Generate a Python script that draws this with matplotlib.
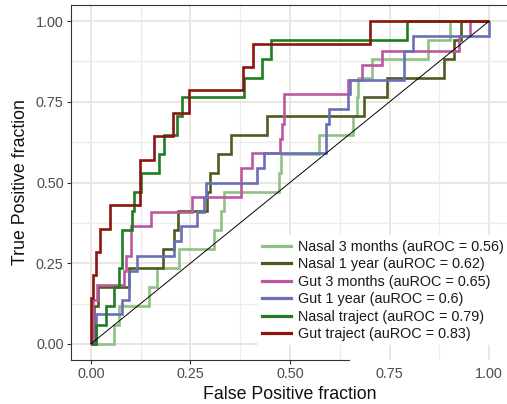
import matplotlib.pyplot as plt
from matplotlib.lines import Line2D

plt.rcParams['font.family'] = ['Liberation Sans', 'DejaVu Sans']

# ROC curves: each point is where a vertical rise sits (fpr) and its top (tpr)
nasal_3m_fpr = [0, 0.058, 0.071, 0.146, 0.167, 0.221, 0.309, 0.326, 0.334, 0.472, 0.477,
                0.572, 0.657, 0.668, 0.672, 0.706, 0.846, 0.901, 1.0]
nasal_3m_tpr = [0, 0.059, 0.118, 0.176, 0.235, 0.294, 0.353, 0.412, 0.471, 0.529, 0.588,
                0.647, 0.706, 0.765, 0.824, 0.882, 0.941, 1.0, 1.0]

nasal_1y_fpr = [0, 0.008, 0.017, 0.096, 0.181, 0.208, 0.218, 0.292, 0.299, 0.320, 0.353,
                0.441, 0.687, 0.744, 0.886, 0.912, 0.930, 1.0]
nasal_1y_tpr = [0, 0.118, 0.176, 0.235, 0.294, 0.353, 0.412, 0.471, 0.529, 0.588, 0.647,
                0.706, 0.765, 0.824, 0.882, 0.941, 1.0, 1.0]

gut_3m_fpr = [0, 0.005, 0.015, 0.083, 0.088, 0.100, 0.152, 0.253, 0.376, 0.405, 0.476,
              0.480, 0.485, 0.645, 0.681, 0.731, 0.925, 0.951, 1.0]
gut_3m_tpr = [0, 0.136, 0.182, 0.227, 0.273, 0.364, 0.409, 0.455, 0.545, 0.591, 0.636,
              0.682, 0.773, 0.818, 0.864, 0.909, 0.955, 1.0, 1.0]

gut_1y_fpr = [0, 0.013, 0.079, 0.096, 0.117, 0.209, 0.226, 0.266, 0.283, 0.288, 0.418,
              0.434, 0.591, 0.597, 0.645, 0.650, 0.787, 0.810, 1.0]
gut_1y_tpr = [0, 0.091, 0.136, 0.227, 0.273, 0.318, 0.364, 0.409, 0.455, 0.500, 0.545,
              0.591, 0.682, 0.727, 0.773, 0.818, 0.909, 0.955, 1.0]

nasal_traj_fpr = [0, 0.013, 0.039, 0.057, 0.071, 0.077, 0.104, 0.108, 0.125, 0.171, 0.184,
                  0.215, 0.228, 0.384, 0.430, 0.453, 0.794, 1.0]
nasal_traj_tpr = [0, 0.059, 0.118, 0.176, 0.235, 0.353, 0.412, 0.471, 0.529, 0.588, 0.647,
                  0.706, 0.765, 0.824, 0.882, 0.941, 1.0, 1.0]

gut_traj_fpr = [0, 0.000, 0.005, 0.012, 0.022, 0.048, 0.123, 0.159, 0.207, 0.246, 0.383,
                0.406, 0.702, 1.0]
gut_traj_tpr = [0, 0.143, 0.214, 0.286, 0.357, 0.429, 0.571, 0.643, 0.714, 0.786, 0.857,
                0.929, 1.0, 1.0]

series_names = ["Nasal 3 months", "Nasal 1 year", "Gut 3 months",
                "Gut 1 year", "Nasal traject", "Gut traject"]
auroc_labels = ["0.56", "0.62", "0.65", "0.6", "0.79", "0.83"]

tick_values = [0, 0.25, 0.5, 0.75, 1.0]
tick_labels = ["0.00", "0.25", "0.50", "0.75", "1.00"]

curves = [
    (nasal_3m_fpr, nasal_3m_tpr),
    (nasal_1y_fpr, nasal_1y_tpr),
    (gut_3m_fpr, gut_3m_tpr),
    (gut_1y_fpr, gut_1y_tpr),
    (nasal_traj_fpr, nasal_traj_tpr),
    (gut_traj_fpr, gut_traj_tpr),
]
colors = ['#8FC184', '#4D5B1F', '#BD58A0', '#6A70B6', '#1E7D24', '#8C1410']

fig = plt.figure(figsize=(5.07, 4.04), dpi=100)
W, H = 507, 404
# panel spans px 71..509 horizontally, 5..360 vertically
ax = fig.add_axes([71 / W, 1 - 360 / H, 438 / W, 355 / H])

ax.set_xlim(-0.05, 1.05)
ax.set_ylim(-0.05, 1.05)

ax.set_xticks(tick_values)
ax.set_xticklabels(tick_labels)
ax.set_yticks(tick_values)
ax.set_yticklabels(tick_labels)
ax.set_xticks([0.125, 0.375, 0.625, 0.875], minor=True)
ax.set_yticks([0.125, 0.375, 0.625, 0.875], minor=True)

ax.grid(which='major', color='#EAE6E1', linewidth=1.4)
ax.grid(which='minor', color='#F0EDE9', linewidth=1.0)
ax.set_axisbelow(True)

ax.tick_params(which='major', length=3.1, width=0.8, color='#333333',
               labelcolor='#4D4D4D', labelsize=10.4, pad=2.2)
ax.tick_params(which='minor', length=0)

for sp in ax.spines.values():
    sp.set_color('#333333')
    sp.set_linewidth(0.8)
# the legend box in the original covers the right part of the bottom line
ax.spines['bottom'].set_bounds(-0.05, 0.647)
for t in ax.xaxis.get_major_ticks()[3:]:
    t.tick1line.set_visible(False)

handles = []
for (fpr, tpr), name, auc, col in zip(curves, series_names, auroc_labels, colors):
    ax.step(fpr, tpr, where='post', color=col, linewidth=1.9,
            solid_joinstyle='miter', solid_capstyle='butt')
    handles.append(Line2D([0], [0], color=col, linewidth=2.3,
                          label=f"{name} (auROC = {auc})"))

ax.plot([0, 1], [0, 1], color='black', linewidth=0.7, zorder=5)

ax.set_xlabel("False Positive fraction", fontsize=12.8, color='#111111')
ax.set_ylabel("True Positive fraction", fontsize=12.8, color='#111111')
ax.xaxis.set_label_coords(0.5, -0.072)
ax.yaxis.set_label_coords(-0.097, 0.5)

leg = ax.legend(handles=handles, loc='upper left',
                bbox_to_anchor=(257.7 / W, 1 - 235.4 / H), bbox_transform=fig.transFigure,
                fontsize=10.4, handlelength=2.0, handletextpad=0.5, labelspacing=0.24,
                borderpad=0.3, borderaxespad=0, frameon=True, fancybox=False,
                facecolor='white', edgecolor='none', framealpha=1)
for txt in leg.get_texts():
    txt.set_color('#1A1A1A')
leg.set_zorder(10)

fig.savefig('out.png', dpi=100)
